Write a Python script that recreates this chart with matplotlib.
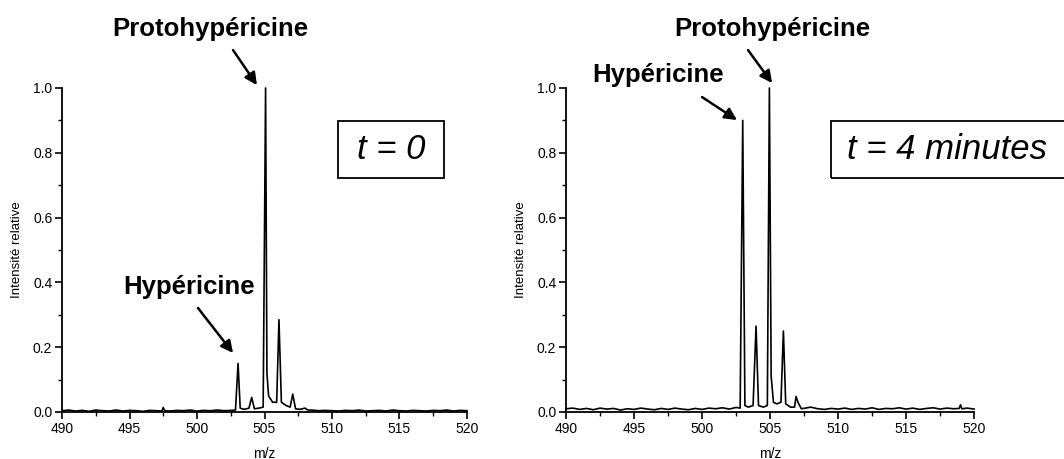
import matplotlib
matplotlib.use('Agg')
import matplotlib.pyplot as plt
from matplotlib.patches import Rectangle
from matplotlib.ticker import MultipleLocator

plt.rcParams['font.family'] = ['Liberation Sans', 'DejaVu Sans']

# spectrum at t = 0 (m/z, relative intensity)
mz_t0 = [490.0, 490.5, 491.0, 491.5, 492.0, 492.5, 493.0, 493.5, 494.0, 494.5,
         495.0, 495.5, 496.0, 496.5, 497.0, 497.4, 497.5, 497.6, 498.0, 498.5,
         499.0, 499.5, 500.0, 500.5, 501.0, 501.5, 502.0, 502.5, 502.85, 503.04,
         503.2, 503.5, 503.85, 504.05, 504.25, 504.6, 504.9, 505.08, 505.18, 505.3,
         505.6, 505.9, 506.07, 506.25, 506.6, 506.9, 507.09, 507.3, 507.6, 508.0,
         508.2, 508.5, 509.0, 509.5, 510.0, 510.5, 511.0, 511.5, 512.0, 512.5,
         513.0, 513.5, 514.0, 514.5, 515.0, 515.5, 516.0, 516.5, 517.0, 517.5,
         518.0, 518.5, 519.0, 519.5, 520.0]
int_t0 = [0.004, 0.006, 0.003, 0.005, 0.002, 0.006, 0.004, 0.003, 0.006, 0.003,
          0.005, 0.004, 0.002, 0.005, 0.004, 0.003, 0.014, 0.004, 0.003, 0.005,
          0.004, 0.006, 0.003, 0.005, 0.004, 0.006, 0.004, 0.005, 0.006, 0.150,
          0.012, 0.008, 0.012, 0.045, 0.010, 0.012, 0.015, 1.000, 0.120, 0.050,
          0.030, 0.030, 0.285, 0.030, 0.020, 0.015, 0.055, 0.010, 0.008, 0.012,
          0.006, 0.006, 0.004, 0.005, 0.004, 0.003, 0.005, 0.004, 0.006, 0.003,
          0.004, 0.005, 0.003, 0.006, 0.004, 0.003, 0.005, 0.004, 0.003, 0.005,
          0.004, 0.006, 0.003, 0.005, 0.004]

# spectrum at t = 4 minutes
mz_t4 = [490.0, 490.5, 491.0, 491.5, 492.0, 492.5, 493.0, 493.5, 494.0, 494.5,
         495.0, 495.5, 496.0, 496.5, 497.0, 497.5, 498.0, 498.5, 499.0, 499.5,
         500.0, 500.5, 501.0, 501.5, 502.0, 502.5, 502.8, 502.99, 503.15, 503.4,
         503.75, 503.97, 504.15, 504.5, 504.8, 504.95, 505.08, 505.25, 505.5, 505.8,
         505.98, 506.15, 506.5, 506.8, 506.91, 507.05, 507.3, 507.6, 508.0, 508.5,
         509.0, 509.5, 510.0, 510.5, 511.0, 511.5, 512.0, 512.5, 513.0, 513.5,
         514.0, 514.5, 515.0, 515.5, 516.0, 516.5, 517.0, 517.5, 518.0, 518.5,
         518.9, 519.0, 519.1, 519.5, 520.0]
int_t4 = [0.010, 0.012, 0.008, 0.011, 0.007, 0.012, 0.009, 0.011, 0.006, 0.010,
          0.008, 0.012, 0.009, 0.007, 0.011, 0.008, 0.012, 0.009, 0.007, 0.011,
          0.008, 0.012, 0.010, 0.013, 0.009, 0.014, 0.012, 0.900, 0.020, 0.015,
          0.020, 0.265, 0.020, 0.015, 0.020, 1.000, 0.110, 0.030, 0.025, 0.030,
          0.250, 0.025, 0.015, 0.015, 0.048, 0.030, 0.010, 0.012, 0.015, 0.010,
          0.008, 0.011, 0.009, 0.012, 0.008, 0.011, 0.009, 0.013, 0.008, 0.011,
          0.010, 0.013, 0.009, 0.012, 0.008, 0.011, 0.013, 0.009, 0.012, 0.010,
          0.011, 0.022, 0.010, 0.012, 0.009]

xticks = [490, 495, 500, 505, 510, 515, 520]
yticks = [0.0, 0.2, 0.4, 0.6, 0.8, 1.0]

fig = plt.figure(figsize=(10.64, 4.59), dpi=100)
ax1 = fig.add_axes([0.0583, 0.1024, 0.3806, 0.7059])
ax2 = fig.add_axes([0.5320, 0.1024, 0.3835, 0.7059])


def style_axes(ax):
    ax.set_xlim(490, 520)
    ax.set_ylim(0, 1.0)
    ax.set_xticks(xticks)
    ax.set_yticks(yticks)
    ax.set_yticklabels(['{:.1f}'.format(v) for v in yticks])
    ax.xaxis.set_minor_locator(MultipleLocator(2.5))
    ax.yaxis.set_minor_locator(MultipleLocator(0.1))
    for s in ['top', 'right']:
        ax.spines[s].set_visible(False)
    for s in ['left', 'bottom']:
        ax.spines[s].set_linewidth(1.3)
    ax.tick_params(which='major', direction='out', length=5, width=1.2, labelsize=10, pad=2)
    ax.tick_params(which='minor', direction='out', length=3, width=1.0)
    ax.set_xlabel('m/z', fontsize=10, labelpad=8)
    ax.set_ylabel('Intensité relative', fontsize=9.5, labelpad=7)


for ax, mz, inten in [(ax1, mz_t0, int_t0), (ax2, mz_t4, int_t4)]:
    ax.plot(mz, inten, color='black', lw=1.2, clip_on=False)
    style_axes(ax)

arrow = dict(arrowstyle='-|>', color='black', lw=1.8, mutation_scale=18, shrinkA=0, shrinkB=0)
bold = dict(fontsize=18.5, fontweight='bold', ha='center', va='baseline')

ax1.text(500.96, 1.160, 'Protohypéricine', **bold)
ax1.annotate('', xy=(504.44, 1.009), xytext=(502.67, 1.117), arrowprops=arrow, annotation_clip=False)
ax1.text(499.4, 0.364, 'Hypéricine', **bold)
ax1.annotate('', xy=(502.67, 0.182), xytext=(500.07, 0.321), arrowprops=arrow)

ax2.text(505.18, 1.160, 'Protohypéricine', **bold)
ax2.annotate('', xy=(505.15, 1.015), xytext=(503.38, 1.117), arrowprops=arrow, annotation_clip=False)
ax2.text(496.73, 1.019, 'Hypéricine', **bold)
ax2.annotate('', xy=(502.57, 0.901), xytext=(500.0, 0.972), arrowprops=arrow, annotation_clip=False)

# boxed time labels
fig.patches.append(Rectangle((0.3177, 0.6122), 0.0996, 0.1242, transform=fig.transFigure,
                             fill=False, edgecolor='black', lw=1.3))
fig.text(0.3675, 0.674, 't = 0', fontsize=25, style='italic', ha='center', va='center')
fig.patches.append(Rectangle((0.781, 0.6122), 0.25, 0.1242, transform=fig.transFigure,
                             fill=False, edgecolor='black', lw=1.3))
fig.text(0.8905, 0.674, 't = 4 minutes', fontsize=25, style='italic', ha='center', va='center')

plt.savefig('out.png', dpi=100)
